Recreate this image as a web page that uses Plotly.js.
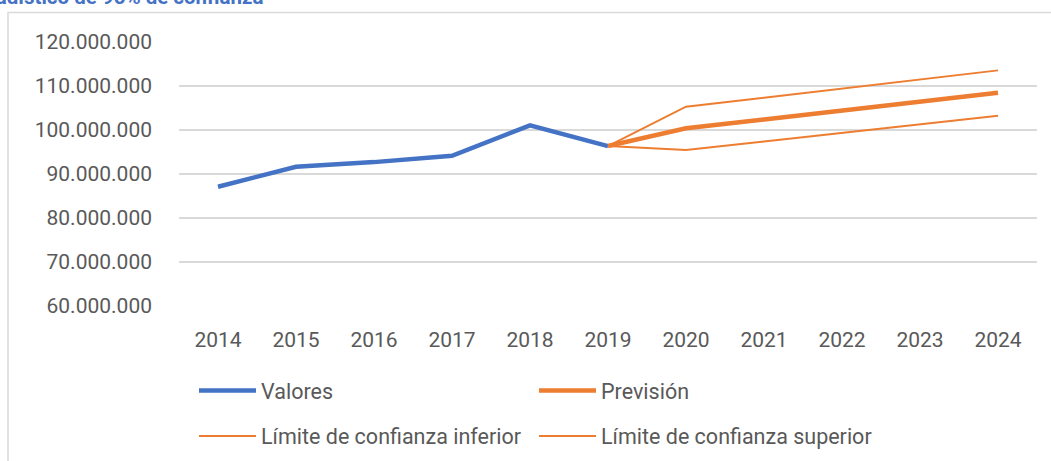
<!DOCTYPE html>
<html>
<head>
<meta charset="utf-8">
<script src="https://cdn.plot.ly/plotly-3.0.1.min.js"></script>
<style>html,body{margin:0;padding:0;background:#fff;}#chart{width:1051px;height:461px;}</style>
</head>
<body>
<div id="chart"></div>
<script>
const years = ['2014','2015','2016','2017','2018','2019','2020','2021','2022','2023','2024'];
const valoresYears = ['2014','2015','2016','2017','2018','2019'];
const valores = [87100000, 91650000, 92700000, 94150000, 101050000, 96350000];
const forecastYears = ['2019','2020','2021','2022','2023','2024'];
const prevision = [96350000, 100400000, 102400000, 104450000, 106450000, 108480000];
const limiteInferior = [96350000, 95450000, 97400000, 99350000, 101300000, 103250000];
const limiteSuperior = [96350000, 105300000, 107350000, 109400000, 111500000, 113550000];
const seriesNames = ['Valores', 'Previsión', 'Límite de confianza inferior', 'Límite de confianza superior'];
const titleText = 'Pronóstico estadístico de 95% de confianza';

const blue = '#4472C4', orange = '#ED7D31', textCol = '#595959';
const legendFont = {family: 'Roboto, sans-serif', size: 21.5, color: textCol};

const traces = [
  {x: valoresYears, y: valores, name: seriesNames[0], type: 'scatter', mode: 'lines',
   line: {color: blue, width: 4.5}, legend: 'legend'},
  {x: forecastYears, y: prevision, name: seriesNames[1], type: 'scatter', mode: 'lines',
   line: {color: orange, width: 4.5}, legend: 'legend2'},
  {x: forecastYears, y: limiteInferior, name: seriesNames[2], type: 'scatter', mode: 'lines',
   line: {color: orange, width: 2}, legend: 'legend3'},
  {x: forecastYears, y: limiteSuperior, name: seriesNames[3], type: 'scatter', mode: 'lines',
   line: {color: orange, width: 2}, legend: 'legend4'}
];

function px2x(p) { return (p - 179) / 858; }
function px2y(p) { return (306 - p) / 264; }
function mkLegend(xPx, yPx) {
  return {orientation: 'h', x: px2x(xPx), xanchor: 'left', y: px2y(yPx), yanchor: 'middle',
          font: legendFont, itemwidth: 57, bgcolor: 'rgba(0,0,0,0)', borderwidth: 0};
}

const layout = {
  width: 1051, height: 461,
  margin: {l: 179, r: 14, t: 42, b: 155, autoexpand: false},
  paper_bgcolor: '#fff', plot_bgcolor: '#fff',
  separators: ',.',
  font: {family: 'Roboto, sans-serif', color: textCol},
  xaxis: {type: 'category', categoryorder: 'array', categoryarray: years, range: [-0.5, 10.5],
          showgrid: false, zeroline: false, showline: false, ticks: '', automargin: false,
          tickfont: {family: 'Roboto, sans-serif', size: 21, color: textCol}, ticklabelstandoff: 19},
  yaxis: {range: [60000000, 120000000], dtick: 10000000, tickformat: ',.0f', automargin: false,
          showgrid: true, gridcolor: '#D9D9D9', gridwidth: 1.5, zeroline: false, showline: false, ticks: '',
          tickfont: {family: 'Roboto, sans-serif', size: 21, color: textCol}, ticklabelstandoff: 26},
  showlegend: true,
  legend: mkLegend(194, 390.5),
  legend2: mkLegend(534, 390.5),
  legend3: mkLegend(194, 436),
  legend4: mkLegend(534, 436),
  shapes: [{type: 'rect', xref: 'paper', yref: 'paper', x0: -0.1993, x1: 1.2, y0: -1.0, y1: 1.1117,
            line: {color: '#D9D9D9', width: 1.5}, fillcolor: 'rgba(0,0,0,0)', layer: 'below'}],
  annotations: [{xref: 'paper', yref: 'paper', x: 0.1002, xanchor: 'right', y: 1.1174, yanchor: 'bottom',
                 text: '<b>' + titleText + '</b>', showarrow: false,
                 font: {family: 'Roboto, sans-serif', size: 20.5, color: blue}}]
};
Plotly.newPlot('chart', traces, layout, {staticPlot: true, displayModeBar: false});
</script>
</body>
</html>
